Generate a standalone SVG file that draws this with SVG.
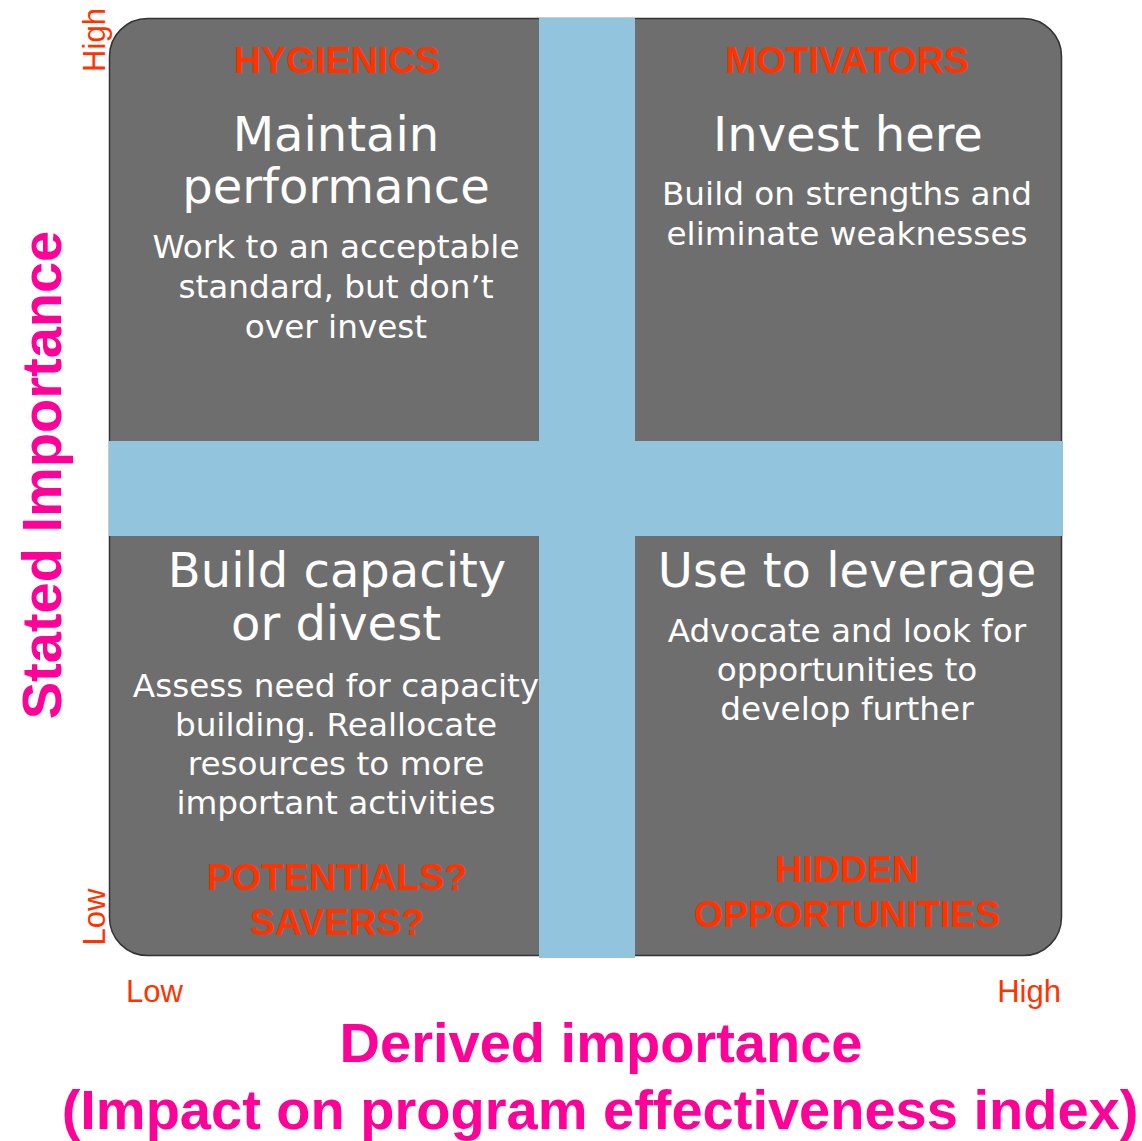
<svg xmlns="http://www.w3.org/2000/svg" width="1142" height="1141" viewBox="0 0 1142 1141">
<style>
.tag{font-family:"Liberation Sans",Arial,sans-serif;font-weight:bold;font-size:37.5px;fill:#ff3300;text-anchor:middle}
.big{font-family:"DejaVu Sans",Verdana,sans-serif;font-size:48px;fill:#ffffff;text-anchor:middle}
.small{font-family:"DejaVu Sans",Verdana,sans-serif;font-size:32.7px;fill:#ffffff;text-anchor:middle}
.axis{font-family:"Liberation Sans",Arial,sans-serif;font-size:31px;fill:#ff3300}
.title{font-family:"Liberation Sans",Arial,sans-serif;font-weight:bold;font-size:56px;fill:#ff0099;text-anchor:middle}
</style>
<rect width="1142" height="1141" fill="#ffffff"/>
<g id="matrix">
<rect x="109.5" y="18.5" width="952" height="937" rx="38" ry="38" fill="#6e6e6e" stroke="#333333" stroke-width="1.5"/>
<rect x="539" y="18" width="96" height="940" fill="#92c5dd"/>
<rect x="109" y="441" width="954" height="95" fill="#92c5dd"/>
</g>
<g id="q-hygienics">
<text class="tag" x="337" y="73">HYGIENICS</text>
<text class="big" x="336" y="151">Maintain</text>
<text class="big" x="336" y="203">performance</text>
<text class="small" x="336" y="258">Work to an acceptable</text>
<text class="small" x="336" y="298">standard, but don’t</text>
<text class="small" x="336" y="338">over invest</text>
</g>
<g id="q-motivators">
<text class="tag" x="847" y="73">MOTIVATORS</text>
<text class="big" x="848" y="151">Invest here</text>
<text class="small" x="847" y="205">Build on strengths and</text>
<text class="small" x="847" y="245">eliminate weaknesses</text>
</g>
<g id="q-potentials">
<text class="big" x="337" y="587">Build capacity</text>
<text class="big" x="336" y="640">or divest</text>
<text class="small" x="336" y="697">Assess need for capacity</text>
<text class="small" x="336" y="736">building. Reallocate</text>
<text class="small" x="336" y="775">resources to more</text>
<text class="small" x="336" y="814">important activities</text>
<text class="tag" x="337" y="890">POTENTIALS?</text>
<text class="tag" x="337" y="935">SAVERS?</text>
</g>
<g id="q-hidden">
<text class="big" x="847" y="587">Use to leverage</text>
<text class="small" x="847" y="642">Advocate and look for</text>
<text class="small" x="847" y="681">opportunities to</text>
<text class="small" x="847" y="720">develop further</text>
<text class="tag" x="847" y="882">HIDDEN</text>
<text class="tag" x="847" y="927">OPPORTUNITIES</text>
</g>
<g id="axes">
<text class="axis" transform="translate(105,40) rotate(-90)" text-anchor="middle">High</text>
<text class="axis" transform="translate(105,917) rotate(-90)" text-anchor="middle">Low</text>
<text class="axis" x="126" y="1002">Low</text>
<text class="axis" x="1061" y="1002" text-anchor="end">High</text>
<text class="title" transform="translate(61,475) rotate(-90)">Stated Importance</text>
<text class="title" x="601" y="1062">Derived importance</text>
<text class="title" x="600" y="1129">(Impact on program effectiveness index)</text>
</g>
</svg>
